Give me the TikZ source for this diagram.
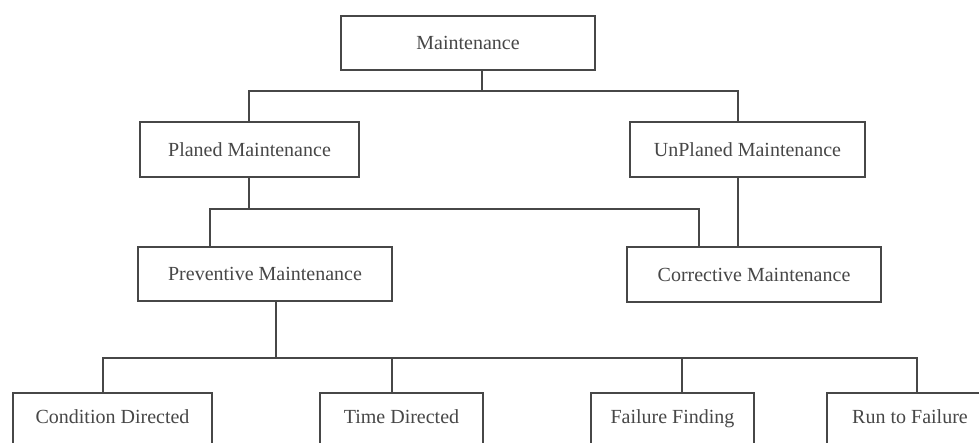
\documentclass[tikz,border=0pt]{standalone}
\usepackage{fontspec}
\setmainfont{Liberation Serif}
\begin{document}
\begin{tikzpicture}[x=1pt,y=-1pt,
  every node/.style={text=black!72},
  box/.style={draw=black!72, line width=1.8pt, rectangle, inner sep=0pt,
    font=\fontsize{20}{24}\selectfont},
  leaf/.style={box, anchor=north, minimum width=#1, text height=14pt,
    text depth=34pt, inner ysep=17pt},
  link/.style={draw=black!72, line width=1.8pt, line cap=rect}]
\useasboundingbox (0,0) rectangle (979,443);
\clip (0,0) rectangle (979,443);
\fill[white] (0,0) rectangle (979,443);

% tree nodes
\node[box, minimum width=254pt, minimum height=54pt] (m)  at (468,43)    {Maintenance};
\node[box, minimum width=219pt, minimum height=55pt] (p)  at (249.5,149.5) {Planed Maintenance};
\node[box, minimum width=235pt, minimum height=55pt] (u)  at (747.5,149.5) {UnPlaned Maintenance};
\node[box, minimum width=254pt, minimum height=54pt] (pv) at (265,274)   {Preventive Maintenance};
\node[box, minimum width=254pt, minimum height=55pt] (cv) at (754,274.5) {Corrective Maintenance};

\node[leaf=199pt] (cd) at (112.5,392) {Condition Directed};
\node[leaf=163pt] (td) at (401.5,392) {Time Directed};
\node[leaf=163pt] (ff) at (672.5,392) {Failure Finding};
\node[leaf=166pt] (rf) at (910,392)   {Run to Failure};

% bus points
\coordinate (tm)  at (482,91);
\coordinate (tbL) at (249,91);
\coordinate (tbR) at (738,91);
\coordinate (mbP) at (249,209);
\coordinate (mbL) at (210,209);
\coordinate (mbR) at (699,209);
\coordinate (bbP) at (276,358);
\coordinate (b1)  at (103,358);
\coordinate (b2)  at (392,358);
\coordinate (b3)  at (682,358);
\coordinate (b4)  at (917,358);

% first level
\draw[link] (m.south -| tm) -- (tm);
\draw[link] (p.north -| tbL) -- (tbL) -- (tbR) -- (u.north -| tbR);

% second level
\draw[link] (p.south -| mbP) -- (mbP);
\draw[link] (pv.north -| mbL) -- (mbL) -- (mbR) -- (cv.north -| mbR);
\draw[link] (u.south -| tbR) -- (cv.north -| tbR);

% third level
\draw[link] (pv.south -| bbP) -- (bbP);
\draw[link] (b1) -- (b4);
\draw[link] (b1) -- (cd.north -| b1);
\draw[link] (b2) -- (td.north -| b2);
\draw[link] (b3) -- (ff.north -| b3);
\draw[link] (b4) -- (rf.north -| b4);
\end{tikzpicture}
\end{document}
